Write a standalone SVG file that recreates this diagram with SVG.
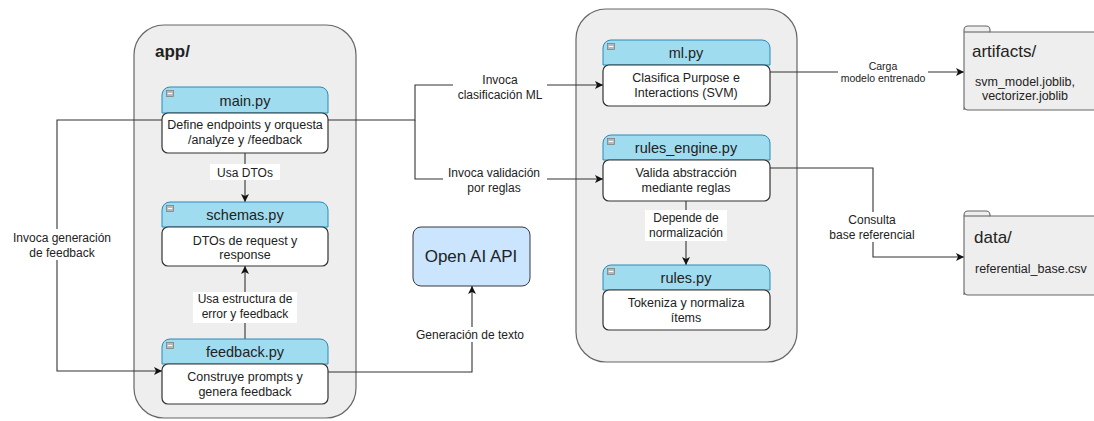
<svg xmlns="http://www.w3.org/2000/svg" width="1094" height="421" viewBox="0 0 1094 421">
  <style>
    text { font-family: "Liberation Sans", Arial, sans-serif; fill: #222; }
    .container { fill: #eeeeee; stroke: #666666; stroke-width: 1.2; }
    .hdr { fill: #a0dcf0; stroke: #2a8ab5; stroke-width: 1; }
    .body { fill: #ffffff; stroke: #333333; stroke-width: 1.2; }
    .title { font-size: 14.5px; text-anchor: middle; }
    .desc { font-size: 12.5px; text-anchor: middle; }
    .lbl { font-size: 12px; text-anchor: middle; }
    .small { font-size: 10.5px; text-anchor: middle; }
    .wire { fill: none; stroke: #333333; stroke-width: 1.1; }
    .lblbg { fill: #ffffff; }
    .icon { fill: #b8b8b8; stroke: #777777; stroke-width: 0.7; }
    .folder { fill: #eeeeee; stroke: #666666; stroke-width: 1.1; }
  </style>
  <defs>
    <marker id="arrow" viewBox="0 0 10 10" refX="10" refY="5" markerWidth="8" markerHeight="8" markerUnits="userSpaceOnUse" orient="auto">
      <path d="M0,0 L10,5 L0,10 L2.5,5 Z" fill="#111111"/>
    </marker>
    <symbol id="minus" viewBox="0 0 8 7">
      <rect x="0.5" y="0.5" width="7" height="6" class="icon"/>
      <line x1="1.8" y1="3.5" x2="6.2" y2="3.5" stroke="#ffffff" stroke-width="1"/>
    </symbol>
  </defs>

  <!-- package containers -->
  <g id="app-package">
    <rect x="134" y="25" width="222" height="393" rx="30" class="container"/>
    <text x="155" y="57" font-size="17" font-weight="bold">app/</text>
  </g>
  <g id="core-package">
    <rect x="576" y="9" width="221" height="353" rx="30" class="container"/>
  </g>

  <!-- connectors -->
  <g id="connectors">
    <line x1="245" y1="153" x2="245" y2="202" class="wire" marker-end="url(#arrow)"/>
    <line x1="245" y1="339" x2="245" y2="266" class="wire" marker-end="url(#arrow)"/>
    <polyline points="162,120 57,120 57,371 162,371" class="wire" marker-end="url(#arrow)"/>
    <polyline points="328,120 415,120 415,85 603,85" class="wire" marker-end="url(#arrow)"/>
    <polyline points="415,120 415,179 603,179" class="wire" marker-end="url(#arrow)"/>
    <polyline points="328,372 472,372 472,286" class="wire" marker-end="url(#arrow)"/>
    <line x1="770" y1="72" x2="964" y2="72" class="wire" marker-end="url(#arrow)"/>
    <polyline points="770,168 873,168 873,257 964,257" class="wire" marker-end="url(#arrow)"/>
    <line x1="686" y1="201" x2="686" y2="265" class="wire" marker-end="url(#arrow)"/>

    <!-- connector labels -->
    <rect x="210" y="164" width="70" height="16" class="lblbg"/>
    <text x="245" y="177" class="lbl">Usa DTOs</text>
    <rect x="193" y="292" width="104" height="31" class="lblbg"/>
    <text x="245" y="303" class="lbl">Usa estructura de</text>
    <text x="245" y="318" class="lbl">error y feedback</text>
    <rect x="8" y="229" width="108" height="31" class="lblbg"/>
    <text x="62" y="242" class="lbl">Invoca generación</text>
    <text x="62" y="257" class="lbl">de feedback</text>
    <rect x="453" y="72" width="94" height="31" class="lblbg"/>
    <text x="500" y="84" class="lbl">Invoca</text>
    <text x="500" y="99" class="lbl">clasificación ML</text>
    <rect x="443" y="165" width="104" height="31" class="lblbg"/>
    <text x="494" y="177" class="lbl">Invoca validación</text>
    <text x="494" y="192" class="lbl">por reglas</text>
    <rect x="410" y="327" width="120" height="15" class="lblbg"/>
    <text x="470" y="339" class="lbl">Generación de texto</text>
    <rect x="838" y="61" width="90" height="22" class="lblbg"/>
    <text x="883" y="70" class="small">Carga</text>
    <text x="883" y="82" class="small">modelo entrenado</text>
    <rect x="825" y="212" width="96" height="30" class="lblbg"/>
    <text x="872" y="224" class="lbl">Consulta</text>
    <text x="872" y="239" class="lbl">base referencial</text>
    <rect x="645" y="210" width="82" height="31" class="lblbg"/>
    <text x="686" y="222" class="lbl">Depende de</text>
    <text x="686" y="237" class="lbl">normalización</text>
  </g>

  <!-- app/ modules -->
  <g id="main-py">
    <path d="M162,113 V95 a8,8 0 0 1 8,-8 H320 a8,8 0 0 1 8,8 V113 Z" class="hdr"/>
    <use href="#minus" x="166" y="90" width="8" height="7"/>
    <text x="245" y="106" class="title">main.py</text>
    <rect x="162" y="113" width="166" height="40" rx="6" class="body"/>
    <text x="245" y="129" class="desc">Define endpoints y orquesta</text>
    <text x="245" y="144" class="desc">/analyze y /feedback</text>
  </g>
  <g id="schemas-py">
    <path d="M162,227 V210 a8,8 0 0 1 8,-8 H320 a8,8 0 0 1 8,8 V227 Z" class="hdr"/>
    <use href="#minus" x="166" y="205" width="8" height="7"/>
    <text x="245" y="220" class="title">schemas.py</text>
    <rect x="162" y="227" width="166" height="39" rx="6" class="body"/>
    <text x="245" y="245" class="desc">DTOs de request y</text>
    <text x="245" y="259" class="desc">response</text>
  </g>
  <g id="feedback-py">
    <path d="M162,364 V347 a8,8 0 0 1 8,-8 H320 a8,8 0 0 1 8,8 V364 Z" class="hdr"/>
    <use href="#minus" x="166" y="342" width="8" height="7"/>
    <text x="245" y="357" class="title">feedback.py</text>
    <rect x="162" y="364" width="166" height="40" rx="6" class="body"/>
    <text x="245" y="381" class="desc">Construye prompts y</text>
    <text x="245" y="396" class="desc">genera feedback</text>
  </g>

  <!-- external service -->
  <g id="openai-api">
    <rect x="413" y="227" width="117" height="59" rx="8" fill="#cce5ff" stroke="#36393d" stroke-width="1"/>
    <text x="471" y="262" font-size="17" text-anchor="middle">Open AI API</text>
  </g>

  <!-- analysis modules -->
  <g id="ml-py">
    <path d="M603,65 V48 a8,8 0 0 1 8,-8 H762 a8,8 0 0 1 8,8 V65 Z" class="hdr"/>
    <use href="#minus" x="607" y="43" width="8" height="7"/>
    <text x="686" y="58" class="title">ml.py</text>
    <rect x="603" y="65" width="167" height="41" rx="6" class="body"/>
    <text x="686" y="82" class="desc">Clasifica Purpose e</text>
    <text x="686" y="97" class="desc">Interactions (SVM)</text>
  </g>
  <g id="rules-engine-py">
    <path d="M603,160 V143 a8,8 0 0 1 8,-8 H762 a8,8 0 0 1 8,8 V160 Z" class="hdr"/>
    <use href="#minus" x="607" y="138" width="8" height="7"/>
    <text x="686" y="153" class="title">rules_engine.py</text>
    <rect x="603" y="160" width="167" height="41" rx="6" class="body"/>
    <text x="686" y="177" class="desc">Valida abstracción</text>
    <text x="686" y="192" class="desc">mediante reglas</text>
  </g>
  <g id="rules-py">
    <path d="M603,290 V273 a8,8 0 0 1 8,-8 H762 a8,8 0 0 1 8,8 V290 Z" class="hdr"/>
    <use href="#minus" x="607" y="268" width="8" height="7"/>
    <text x="686" y="283" class="title">rules.py</text>
    <rect x="603" y="290" width="167" height="40" rx="6" class="body"/>
    <text x="686" y="307" class="desc">Tokeniza y normaliza</text>
    <text x="686" y="322" class="desc">ítems</text>
  </g>

  <!-- resource folders -->
  <g id="artifacts-folder">
    <path d="M964,110 V30 a4,4 0 0 1 4,-4 H986 a4,4 0 0 1 4,4 V32 H1100 V110 H968 a4,4 0 0 1 -4,-4 Z" class="folder"/>
    <line x1="964" y1="32" x2="990" y2="32" stroke="#666666" stroke-width="1.1"/>
    <text x="972" y="57" font-size="17">artifacts/</text>
    <text x="1025" y="86" font-size="12.5" text-anchor="middle">svm_model.joblib,</text>
    <text x="1025" y="100" font-size="12.5" text-anchor="middle">vectorizer.joblib</text>
  </g>
  <g id="data-folder">
    <path d="M964,295 V215 a4,4 0 0 1 4,-4 H986 a4,4 0 0 1 4,4 V216 H1100 V295 H968 a4,4 0 0 1 -4,-4 Z" class="folder"/>
    <line x1="964" y1="216" x2="990" y2="216" stroke="#666666" stroke-width="1.1"/>
    <text x="974" y="243" font-size="17">data/</text>
    <text x="975" y="273" font-size="12.5">referential_base.csv</text>
  </g>
</svg>
